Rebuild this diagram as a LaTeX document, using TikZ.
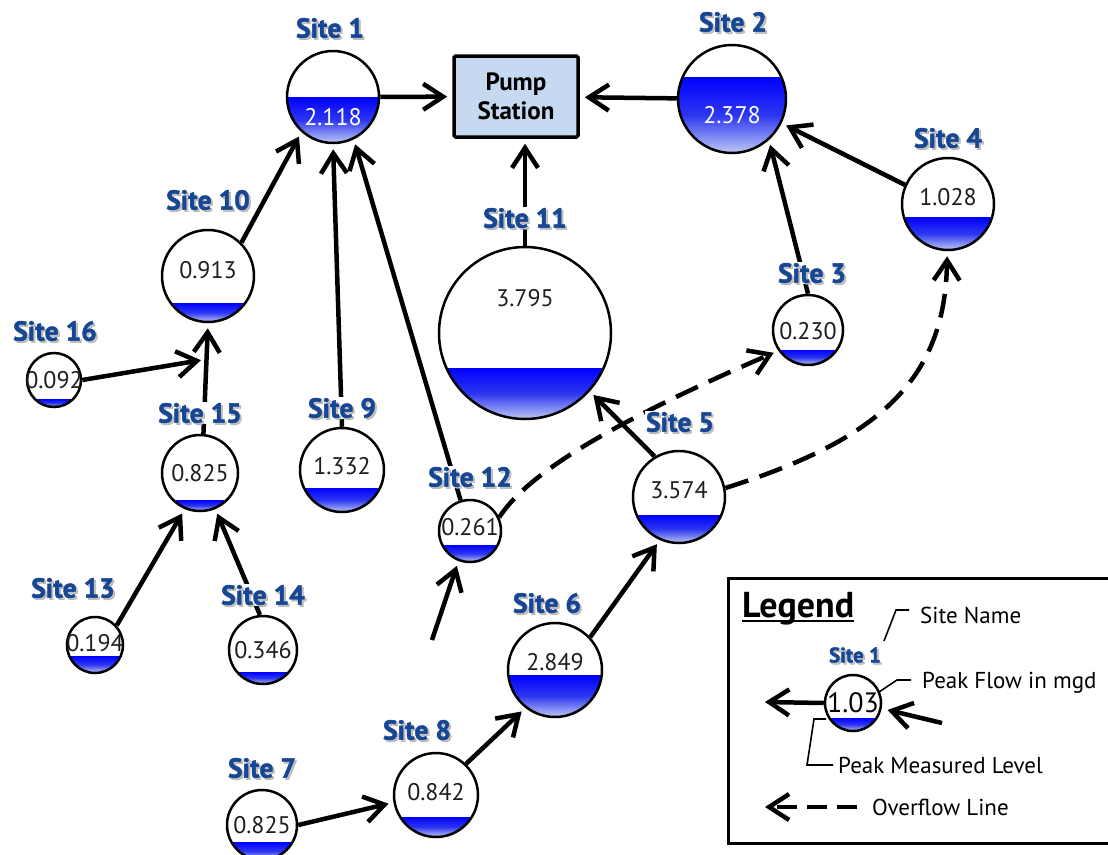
\documentclass[tikz,border=0pt]{standalone}
\usepackage{fontspec}
\setmainfont{PT Sans}
\newfontfamily\lblfont{PT Sans}[BoldFeatures={FakeBold=1.6}]
\usetikzlibrary{arrows.meta}
\definecolor{lblue}{RGB}{22,70,148}
\definecolor{wtop}{RGB}{0,0,255}
\definecolor{wmid}{RGB}{45,55,240}
\definecolor{wbot}{RGB}{190,200,245}
\definecolor{pumpfill}{RGB}{198,217,241}
\definecolor{valgray}{RGB}{30,30,30}
\tikzset{
 sitecirc/.style={circle, draw=black, line width=2.5pt, inner sep=0pt},
 water/.style={top color=wtop, bottom color=wbot, middle color=wmid},
 valtext/.style={font=\fontsize{24}{26}\selectfont, text=valgray, inner sep=0pt},
 lblbase/.style={font=\lblfont\bfseries\fontsize{27.5}{30}\selectfont, inner sep=1pt},
 lblbg/.style={lblbase, fill=white, text=white},
 lblshadow/.style={lblbase, text=black!40, opacity=0.6},
 lbl/.style={lblbase, text=lblue},
 arr/.style={line width=4.5pt, -{Straight Barb[length=20pt,width=26pt]}, shorten >=5pt},
 ovf/.style={arr, dash pattern=on 24pt off 12pt},
 leader/.style={line width=1.6pt},
 legtext/.style={font=\fontsize{23}{25}\selectfont, anchor=base west, inner sep=0pt},
}
\newcommand\mysite[8]{%
  \begin{scope}
    \clip (#2,#3) circle[radius=#4];
    \shade[water] (#2-#4,#5) rectangle (#2+#4,#3+#4);
  \end{scope}
  \node[sitecirc, minimum size=2*#4pt] (#1) at (#2,#3) {};
  \node[valtext,#8] (#1v) at (#2,#6) {#7};
}
\newcommand\mylabel[5][]{%
  \node[lblbg,#1] (#2) at (#3,#4) {#5};
  \node[lblshadow,#1] (#2s) at ([shift={(2pt,-2pt)}]#2.center) {#5};
  \node[lbl,#1] (#2t) at (#2.center) {#5};
}
\begin{document}
\begin{tikzpicture}[x=1pt,y=-1pt]
\useasboundingbox (0,0) rectangle (1108,854);
\fill[white] (0,0) rectangle (1108,854);

% sites
\mysite{s1}{333}{97}{46}{97}{117}{2.118}{text=white}
\mysite{s2}{732}{99}{54}{77}{115}{2.378}{text=white}
\mysite{s4}{948}{204}{46}{217}{197}{1.028}{}
\mysite{s3}{808}{330}{35}{350}{331}{0.230}{}
\mysite{s11}{525}{333}{86}{368}{298}{3.795}{}
\mysite{s5}{679}{497}{46}{515}{490}{3.574}{}
\mysite{s6}{555}{670}{47}{675}{662}{2.849}{}
\mysite{s8}{436}{795}{42}{817}{792}{0.842}{}
\mysite{s7}{262}{825}{35}{842}{825}{0.825}{}
\mysite{s12}{470}{531}{31}{545}{527}{0.261}{}
\mysite{s9}{342}{470}{42}{488}{466}{1.332}{}
\mysite{s10}{208}{276}{46}{303}{270}{0.913}{}
\mysite{s16}{54}{380}{27}{399}{380}{0.092}{}
\mysite{s15}{200}{473}{38}{500}{473}{0.825}{}
\mysite{s13}{95}{645}{28}{656}{643}{0.194}{}
\mysite{s14}{263}{650}{34}{672}{650}{0.346}{}

% pump station
\node[draw, line width=3.5pt, fill=pumpfill, minimum width=124pt, minimum height=81pt,
      rounded corners=1.5pt, align=center, font=\bfseries\fontsize{25}{29}\selectfont]
      (pump) at (516,96.5) {Pump\\Station};

% connectors
\draw[arr] (s1) -- (pump);
\draw[arr] (s2) -- (pump);
\draw[arr] (s11.north) -- (s11.north |- pump.south);
\draw[arr] (s4.156) -- (s2.-26);
\draw[arr] (s3.north) -- (s2.-48);
\draw[arr] (s10.45) -- (s1.228);
\draw[arr] (s9.north) -- (s1.south);
\draw[arr] (s12.107) -- (s1.-64);
\draw[arr] (s15.85) -- (s10.south);
\coordinate (j16) at (202,360);
\draw[arr, shorten >=1pt] (s16.east) -- (j16);
\draw[arr] (s13.42) -- (s15.-113);
\draw[arr] (s14.95) -- (s15.-67);
\draw[arr] (s5.121) -- (s11.-42);
\draw[arr] (s6.43) -- (s5.-114);
\draw[arr] (s8.46) -- (s6.-128);
\draw[arr] (s7.east) -- (s8.190);
\coordinate (in12) at (432,640);
\draw[arr] (in12) -- (s12.-111);
\draw[ovf] (s12.25) .. controls +(30,-47) and +(-155,67) .. (s3.215);
\draw[ovf] (s5.11) .. controls +(153,-48) and +(-2,129) .. (s4.-91);

% labels
\mylabel{l1}{330}{28}{Site 1}
\mylabel{l2}{733}{22}{Site 2}
\mylabel{l4}{948}{138}{Site 4}
\mylabel{l3}{812}{273}{Site 3}
\mylabel{l11}{525}{218}{Site 11}
\mylabel{l10}{208}{200}{Site 10}
\mylabel{l16}{55}{331}{Site 16}
\mylabel{l15}{200}{413}{Site 15}
\mylabel{l9}{342}{408}{Site 9}
\mylabel{l12}{470}{477}{Site 12}
\mylabel{l5}{680}{422}{Site 5}
\mylabel{l6}{547}{603}{Site 6}
\mylabel{l13}{73}{588}{Site 13}
\mylabel{l14}{263}{595}{Site 14}
\mylabel{l8}{417}{730}{Site 8}
\mylabel{l7}{262}{768}{Site 7}

% legend
\node[draw, line width=3.5pt, minimum width=400pt, minimum height=265pt,
      anchor=north west, inner sep=0pt] (legbox) at (726.5,576.5) {};
\node[font=\bfseries\fontsize{36}{38}\selectfont, inner sep=0pt, anchor=base west]
      (legt) at (742,617) {Legend};
\draw[line width=2.4pt] ([yshift=-4pt]legt.base west) -- ([yshift=-4pt]legt.base east);
\mysite{lg}{853}{703}{28}{718}{703}{1.03}{font=\fontsize{28}{30}\selectfont, text=black}
\mylabel[font=\lblfont\bfseries\fontsize{21}{23}\selectfont]{lgl}{855}{655}{Site 1}
\node[legtext] (tname) at (920,623) {Site Name};
\node[legtext] (tflow) at (922,688) {Peak Flow in mgd};
\node[legtext] (tlevel) at (838,773) {Peak Measured Level};
\node[legtext] (tover) at (872,815) {Overflow Line};
\draw[leader] (884,641) -- (896,610) -- (909,610);
\draw[leader] (879,692) -- (897,680) -- (911,680);
\draw[leader] (826,719) -- (814,719) -- (807,765) -- (833,765);
\coordinate (lgout) at (765,702);
\draw[arr, shorten >=0pt] (lg.west) -- (lgout);
\coordinate (lgin) at (942,723);
\draw[arr, shorten >=6pt] (lgin) -- (lg.-11);
\coordinate (ovs) at (857,807);
\coordinate (ove) at (765,807);
\draw[arr, shorten >=0pt, dash pattern=on 20pt off 10pt] (ovs) -- (ove);
\end{tikzpicture}
\end{document}
